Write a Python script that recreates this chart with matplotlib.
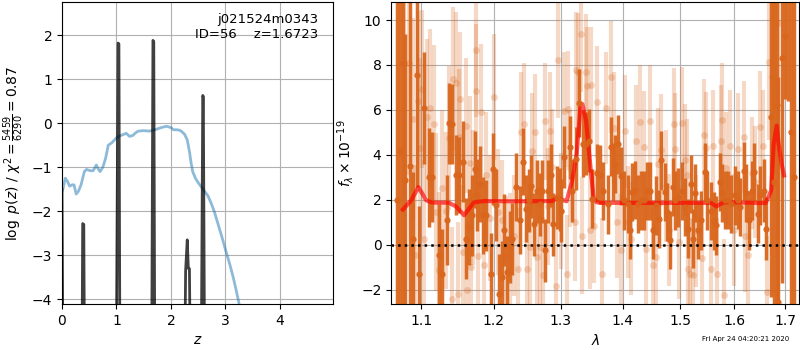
import matplotlib
matplotlib.use('Agg')
import matplotlib.pyplot as plt
from matplotlib.ticker import FixedLocator, NullLocator, FormatStrFormatter

# ---- left panel: chi2 curve and log p(z)
chi_z = [0.0, 0.02, 0.06, 0.10, 0.14, 0.19, 0.22, 0.26, 0.30, 0.35, 0.38, 0.41, 0.45, 0.52, 0.57,
         0.60, 0.63, 0.67, 0.70, 0.75, 0.80, 0.85, 0.92, 1.00, 1.08, 1.14, 1.18, 1.24, 1.30,
         1.35, 1.40, 1.50, 1.61, 1.73, 1.82, 1.92, 2.00, 2.05, 2.12, 2.18, 2.25, 2.30, 2.34,
         2.37, 2.40, 2.45, 2.50, 2.56, 2.62, 2.68, 2.74, 2.80, 2.86, 2.94, 3.02, 3.08,
         3.14, 3.20, 3.26, 3.30]
chi_v = [-1.55, -1.48, -1.25, -1.32, -1.43, -1.40, -1.40, -1.61, -1.55, -1.40, -1.25, -1.10,
         -1.05, -1.08, -1.08, -1.02, -0.95, -1.05, -1.10, -1.00, -0.80, -0.50, -0.44, -0.33,
         -0.28, -0.25, -0.23, -0.30, -0.28, -0.22, -0.18, -0.17, -0.18, -0.14, -0.10, -0.07,
         -0.10, -0.15, -0.15, -0.17, -0.25, -0.38, -0.64, -0.90, -1.10, -1.25, -1.35, -1.45,
         -1.55, -1.65, -1.82, -2.02, -2.27, -2.60, -2.95, -3.20, -3.48, -3.80, -4.15, -4.40]

pdf_z = [0.0, 0.02, 0.365, 0.38, 0.40, 0.415, 0.995, 1.03, 1.045, 1.065, 1.645, 1.67, 1.685,
         1.705, 2.25, 2.27, 2.30, 2.32, 2.34, 2.36, 2.555, 2.585, 2.595, 2.62, 5.0]
pdf_v = [-1.5, -6, -6, -2.28, -2.30, -6, -6, 1.82, 1.80, -6, -6, 1.88, 1.85,
         -6, -6, -3.35, -2.65, -3.30, -3.30, -6, -6, 0.63, 0.60, -6, -6]

# ---- right panel: spectrum (lambda in micron, flux x 1e-19)
dark_wave = [1.0690, 1.0732, 1.0762, 1.0796, 1.0850, 1.0900, 1.0943, 1.0978, 1.1043, 1.1109,
             1.1149, 1.1233, 1.1278, 1.1341, 1.1367, 1.1418, 1.1468, 1.1513, 1.1568, 1.1606,
             1.1651, 1.1693, 1.1730, 1.1762, 1.1800, 1.1847, 1.1889, 1.1955, 1.1989, 1.2036,
             1.2075, 1.2114, 1.2148, 1.2191, 1.2231, 1.2268, 1.2318, 1.2377, 1.2429, 1.2474,
             1.2514, 1.2549, 1.2593, 1.2638, 1.2679, 1.2714, 1.2765, 1.2805, 1.2842, 1.2882,
             1.2943, 1.2990, 1.3011, 1.3052, 1.3151, 1.3176, 1.3238, 1.3281, 1.3349, 1.3396,
             1.3440, 1.3503, 1.3572, 1.3628, 1.3681, 1.3751, 1.3807, 1.3834, 1.3872, 1.3928,
             1.3972, 1.4027, 1.4082, 1.4124, 1.4162, 1.4209, 1.4251, 1.4309, 1.4361, 1.4405,
             1.4463, 1.4520, 1.4568, 1.4619, 1.4664, 1.4724, 1.4770, 1.4817, 1.4869, 1.4911,
             1.4959, 1.5031, 1.5079, 1.5138, 1.5187, 1.5230, 1.5260, 1.5320, 1.5369, 1.5443,
             1.5491, 1.5553, 1.5615, 1.5657, 1.5720, 1.5769, 1.5814, 1.5876, 1.5939, 1.6003,
             1.6066, 1.6117, 1.6181, 1.6225, 1.6277, 1.6342, 1.6388, 1.6452, 1.6506, 1.6570,
             1.6615, 1.6715, 1.6768, 1.6834, 1.6863, 1.6929, 1.6995, 1.7070, 1.7131, 1.7193]
dark_flux = [2.0, 4.19, 8.10, 2.90, 3.50, 0.24, 7.57, -1.30, 6.10, 3.00,
             3.00, -0.47, -1.30, 1.08, 5.40, 5.37, 3.10, 3.10, 3.70, 0.27,
             0.78, 1.30, 3.35, 2.20, 2.70, 1.30, 1.30, -1.30, 3.35, 1.75,
             -2.20, -1.44, 0.64, -1.20, -0.10, 0.27, 2.56, 1.10, 3.69, 1.60,
             1.97, 2.60, 0.90, 2.38, 1.80, 2.38, -0.25, 2.37, 3.08, 0.90,
             2.10, 2.00, 1.52, 3.90, 4.34, 2.40, 3.82, 6.30, 4.49, 4.49,
             4.63, 2.05, 3.20, 3.12, 2.40, 1.79, 4.37, 3.23, 3.60, 4.46,
             3.05, 1.97, 1.80, 0.64, 2.34, 2.44, 1.82, 1.97, 1.97, 2.40,
             2.40, 0.64, 1.75, 1.15, 3.75, 2.34, 1.45, 0.22, 2.56, 1.97,
             2.10, 2.40, 1.67, 0.71, 2.71, 0.27, 2.29, 0.64, 1.08, 3.23,
             1.97, 1.49, 1.06, 0.86, 2.78, 2.30, 2.00, 2.00, 1.82, 2.19,
             2.00, 1.67, 3.27, 2.30, 1.08, 2.41, 3.23, 1.38, 2.19, 2.41,
             0.71, 5.67, 2.81, 6.22, -2.55, 8.31, 9.30, 12.0, 5.0, 3.0]
dark_err = [12, 9, 12, 6.5, 8, 3.0, 5.0, 3.0, 2.5, 2.2,
            2.0, 2.3, 2.0, 2.0, 1.8, 1.8, 1.8, 1.7, 1.8, 1.8,
            1.7, 1.8, 1.7, 1.6, 1.7, 1.7, 1.6, 1.8, 1.6, 1.6,
            1.8, 1.6, 1.6, 1.6, 1.6, 1.6, 1.5, 1.5, 1.5, 1.5,
            1.4, 1.4, 1.4, 1.4, 1.4, 1.4, 1.4, 1.4, 1.4, 1.4,
            1.4, 1.4, 1.4, 1.4, 1.4, 1.4, 1.4, 1.5, 1.5, 1.4,
            1.4, 1.3, 1.3, 1.3, 1.3, 1.3, 1.3, 1.3, 1.3, 1.3,
            1.3, 1.3, 1.3, 1.3, 1.3, 1.3, 1.3, 1.3, 1.3, 1.3,
            1.3, 1.3, 1.3, 1.3, 1.3, 1.3, 1.3, 1.3, 1.3, 1.3,
            1.3, 1.3, 1.3, 1.3, 1.3, 1.3, 1.3, 1.3, 1.3, 1.3,
            1.3, 1.3, 1.3, 1.3, 1.3, 1.3, 1.3, 1.3, 1.3, 1.3,
            1.3, 1.3, 1.3, 1.3, 1.3, 1.3, 1.3, 1.3, 1.3, 1.4,
            1.4, 8, 9, 10, 10, 10, 2.8, 5.6, 15, 15]

light_wave = [1.0775, 1.0840, 1.0890, 1.0925, 1.0960, 1.0990, 1.1015, 1.1045, 1.1080, 1.1120,
              1.1165, 1.1200, 1.1240, 1.1285, 1.1330, 1.1375, 1.1410, 1.1425, 1.1470, 1.1490,
              1.1510, 1.1530, 1.1560, 1.1610, 1.1625, 1.1660, 1.1680, 1.1710, 1.1740, 1.1750,
              1.1775, 1.1820, 1.1860, 1.1895, 1.1940, 1.2000, 1.2060, 1.2120, 1.2180, 1.2240,
              1.2300, 1.2350, 1.2395, 1.2440, 1.2480, 1.2530, 1.2560, 1.2600, 1.2640, 1.2680,
              1.2720, 1.2760, 1.2800, 1.2840, 1.2870, 1.2920, 1.2960, 1.3010, 1.3050, 1.3090,
              1.3120, 1.3140, 1.3220, 1.3240, 1.3270, 1.3315, 1.3340, 1.3396, 1.3420, 1.3460,
              1.3480, 1.3530, 1.3580, 1.3650, 1.3720, 1.3807, 1.3860, 1.3900, 1.3975, 1.4040,
              1.4090, 1.4140, 1.4220, 1.4300, 1.4360, 1.4400, 1.4460, 1.4520, 1.4570, 1.4600,
              1.4650, 1.4740, 1.4800, 1.4880, 1.4910, 1.4980, 1.5031, 1.5079, 1.5110, 1.5140,
              1.5170, 1.5220, 1.5280, 1.5400, 1.5430, 1.5470, 1.5550, 1.5590, 1.5670, 1.5740,
              1.5770, 1.5800, 1.5840, 1.5910, 1.5990, 1.6066, 1.6181, 1.6200, 1.6270, 1.6350,
              1.6400, 1.6506, 1.6560, 1.6640, 1.6680, 1.6740, 1.6768, 1.6790, 1.6863]
light_flux = [8.10, 8.10, 5.60, -0.47, 6.41, 4.30, 6.93, 0.27, 5.67, 6.10,
              5.38, 1.45, -1.14, 2.50, 1.52, 4.75, -2.40, 7.38, 7.18, -2.20,
              4.80, 6.49, -0.33, 5.30, -2.00, 3.64, -1.00, 2.10, 6.83, 8.67,
              -0.50, 5.92, -0.90, 3.10, 1.20, 6.56, 1.45, 1.08, -0.55, -0.40,
              0.40, -1.07, 5.00, 5.38, -1.07, -0.10, 4.16, 5.00, -0.55, -0.10,
              -1.36, 5.50, 1.70, 5.08, 3.44, -1.85, 8.22, 1.50, 5.97, -1.30,
              6.04, 3.40, 1.00, 7.78, 7.70, 9.38, 0.40, 7.67, 7.08, 0.64,
              7.10, 0.81, 6.34, -1.32, 6.10, 7.48, 5.18, 1.00, -0.25, 5.04,
              1.00, 0.27, 4.63, 5.48, 4.35, -0.20, 5.50, -0.89, -0.55, 3.60,
              4.20, 2.60, 0.64, 5.38, 4.27, 0.10, 5.40, 3.77, 3.10, -1.07,
              -1.30, -1.36, 0.60, -0.58, 4.86, 4.30, -1.07, 4.40, -1.30, 4.63,
              5.57, -2.25, 3.40, 4.40, 0.64, 4.27, 4.78, 0.40, -0.47, 3.20,
              2.80, 5.23, 4.40, -2.10, 8.15, 7.45, 7.10, 9.78, 9.85]
light_err = [6, 5, 4.5, 4, 4, 4, 3.5, 3.5, 3.5, 3.5,
             3.5, 3.5, 3.5, 3.5, 3.5, 3.2, 3.2, 3.2, 3.2, 3.2,
             3.0, 3.0, 3.0, 3.0, 3.0, 3.0, 3.0, 3.0, 3.0, 3.0,
             3.0, 3.0, 2.8, 2.8, 2.8, 2.8, 2.8, 2.7, 2.7, 2.7,
             2.7, 2.7, 2.7, 2.7, 2.7, 2.7, 2.6, 2.6, 2.6, 2.6,
             2.6, 2.6, 2.6, 2.6, 2.6, 2.6, 2.6, 2.6, 2.6, 2.6,
             2.6, 2.6, 2.6, 2.6, 2.6, 2.6, 2.6, 2.6, 2.6, 2.6,
             2.6, 2.5, 2.5, 2.5, 2.5, 2.5, 2.5, 2.5, 2.5, 2.5,
             2.5, 2.5, 2.5, 2.5, 2.5, 2.5, 2.5, 2.5, 2.5, 2.5,
             2.5, 2.5, 2.5, 2.5, 2.5, 2.5, 2.5, 2.5, 2.5, 2.5,
             2.5, 2.5, 2.5, 2.5, 2.5, 2.5, 2.5, 2.5, 2.5, 2.5,
             2.5, 2.5, 2.5, 2.5, 2.5, 2.5, 2.5, 2.5, 2.5, 2.5,
             2.5, 2.5, 2.5, 2.5, 3.5, 4, 4, 4, 4]

model_wave = [1.0763, 1.0870, 1.0965, 1.1070, 1.1150, 1.1370, 1.1470, 1.1580, 1.1650, 1.1720,
              1.1860, 1.2270, 1.2870, 1.2940, 1.3020, 1.3090, 1.3180, 1.3250, 1.3310, 1.3340,
              1.3400, 1.3460, 1.3520, 1.3570, 1.3630, 1.4850, 1.5560, 1.5660, 1.5730, 1.5820,
              1.6610, 1.6720, 1.6770, 1.6830, 1.6870, 1.6930, 1.6980]
model_flux = [1.56, 1.97, 2.56, 1.97, 1.87, 1.87, 1.70, 1.31, 1.60, 1.89,
              1.94, 1.93, 1.94, 2.09, 2.00, 1.93, 2.86, 4.05, 6.12, 6.26,
              5.52, 3.74, 2.10, 1.89, 1.86, 1.86, 1.86, 1.70, 1.81, 1.89,
              1.85, 2.41, 4.49, 5.30, 4.49, 3.60, 3.08]

orange = '#d9661c'

fig = plt.figure(figsize=(8, 3.5), dpi=100)
ax1 = fig.add_axes([0.0775, 0.131, 0.339, 0.863])
ax2 = fig.add_axes([0.489, 0.131, 0.510, 0.863])

# p(z) panel
ax1.plot(chi_z, chi_v, color='tab:blue', alpha=0.5, lw=2)
ax1.plot(pdf_z, pdf_v, color='k', alpha=0.75, lw=2)
ax1.set_xlim(0, 4.98)
ax1.set_ylim(-4.11, 2.75)
ax1.set_xticks([0, 1, 2, 3, 4])
ax1.set_yticks([-4, -3, -2, -1, 0, 1, 2])
ax1.grid()
ax1.set_xlabel(r'$z$')
ax1.set_ylabel(r'$\log\ p(z)$' + ' / ' + r'$\chi^2=\frac{5459}{6290}=0.87$')
ax1.text(0.945, 0.965, 'j021524m0343\nID=56    z=1.6723', ha='right', va='top',
         transform=ax1.transAxes, fontsize=9.5)

# spectrum panel
ax2.errorbar(light_wave, light_flux, yerr=light_err, color=orange, alpha=0.25,
             marker='o', ms=5, linestyle='None', elinewidth=3, mec='none')
ax2.errorbar(dark_wave, dark_flux, yerr=dark_err, color=orange, alpha=0.95,
             marker='o', ms=4.5, linestyle='None', elinewidth=2.5, mec='none')
ax2.plot(model_wave, model_flux, color='r', alpha=0.65, lw=3)
ax2.axhline(0, color='k', linestyle=':', lw=1.8)

ax2.set_xscale('log')
ax2.set_xlim(1.0614, 1.729)
ax2.set_ylim(-2.65, 10.8)
ax2.xaxis.set_major_locator(FixedLocator([1.1, 1.2, 1.3, 1.4, 1.5, 1.6, 1.7]))
ax2.xaxis.set_major_formatter(FormatStrFormatter('%.1f'))
ax2.xaxis.set_minor_locator(NullLocator())
ax2.set_yticks([-2, 0, 2, 4, 6, 8, 10])
ax2.grid()
ax2.set_xlabel(r'$\lambda$')
ax2.set_ylabel(r'$f_\lambda \times 10^{-19}$')

fig.text(0.932, 0.03, 'Fri Apr 24 04:20:21 2020', ha='center', va='center', fontsize=5)

fig.savefig('out.png', dpi=100)
